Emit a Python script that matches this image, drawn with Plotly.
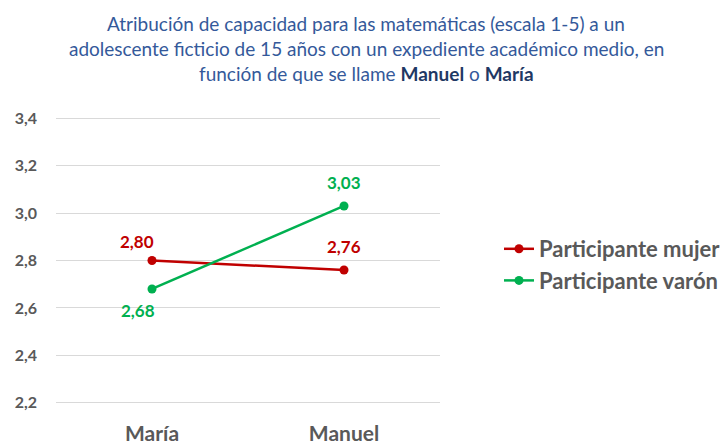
import plotly.graph_objects as go

categories = ["María", "Manuel"]
mujer = [2.80, 2.76]
varon = [2.68, 3.03]
series_names = ["Participante mujer", "Participante varón"]
tick_vals = [2.2, 2.4, 2.6, 2.8, 3.0, 3.2, 3.4]
tick_text = ["2,2", "2,4", "2,6", "2,8", "3,0", "3,2", "3,4"]
title_lines = [
    "Atribución de capacidad para las matemáticas (escala 1-5) a un",
    "adolescente ficticio de 15 años con un expediente académico medio, en",
    "función de que se llame <b style='color:#1F3864'>Manuel</b> o <b style='color:#1F3864'>María</b>",
]

RED = "#C00000"
GREEN = "#00B050"
FONT = "Lato, 'Open Sans', sans-serif"

def fmt(v):
    return f"{v:.2f}".replace(".", ",")

fig = go.Figure()
fig.add_trace(go.Scatter(
    x=categories, y=mujer, name=series_names[0], mode="lines+markers",
    line=dict(color=RED, width=2.5), marker=dict(color=RED, size=9),
))
fig.add_trace(go.Scatter(
    x=categories, y=varon, name=series_names[1], mode="lines+markers",
    line=dict(color=GREEN, width=2.5), marker=dict(color=GREEN, size=9),
))

# data labels (offsets in pixels)
label_offsets = {
    "mujer": [(-15, 19), (0, 23)],
    "varon": [(-14, -22), (0, 23)],
}
for vals, color, key in [(mujer, RED, "mujer"), (varon, GREEN, "varon")]:
    for i, (c, v) in enumerate(zip(categories, vals)):
        dx, dy = label_offsets[key][i]
        fig.add_annotation(x=c, y=v, text=fmt(v), showarrow=False, xshift=dx, yshift=dy,
                           font=dict(color=color, size=17, family=FONT, weight="bold"))

title_y = [23, 49, 74]
for i, line in enumerate(title_lines):
    fig.add_annotation(text=line, xref="paper", yref="paper", x=(366 - 56) / 384,
                       y=(404 - title_y[i]) / 287, xanchor="center", yanchor="middle",
                       showarrow=False, font=dict(size=19, color="#34599A", family=FONT))

fig.update_layout(
    width=728, height=448,
    margin=dict(l=56, r=288, t=117, b=44, autoexpand=False),
    paper_bgcolor="white", plot_bgcolor="white",
    font=dict(family=FONT, color="#595959"),
    showlegend=True,
    legend=dict(x=(499 - 56) / 384, y=(404 - 265) / 287, xanchor="left", yanchor="middle",
                font=dict(size=22, color="#595959", family=FONT, weight="bold"),
                itemwidth=30, tracegroupgap=0, bgcolor="rgba(0,0,0,0)"),
    xaxis=dict(range=[-0.5, 1.5], showgrid=False, showline=False, zeroline=False,
               automargin=False,
               tickfont=dict(size=21, color="#595959", family=FONT, weight="bold"),
               ticklabelstandoff=15),
    yaxis=dict(range=[2.195, 3.405], tickvals=tick_vals, ticktext=tick_text,
               automargin=False,
               showgrid=True, gridcolor="#D9D9D9", gridwidth=1, zeroline=False,
               showline=False, tickfont=dict(size=16, color="#595959", family=FONT, weight="bold"),
               ticklabelstandoff=18),
)

fig.write_html("out.html", config={"displayModeBar": False},
               post_script="document.body.style.margin='0';document.body.style.overflow='hidden';")
